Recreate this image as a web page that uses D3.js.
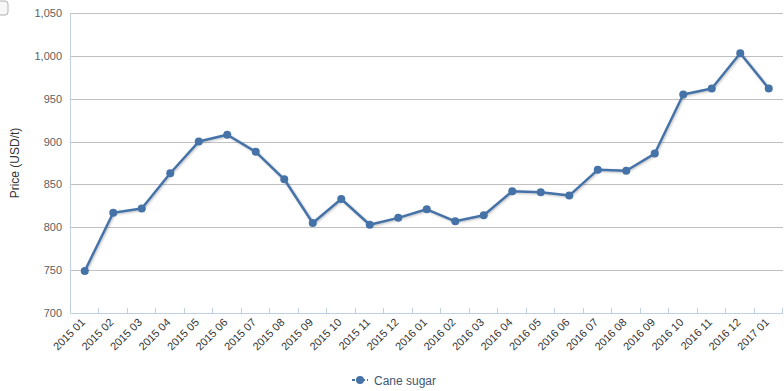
<!DOCTYPE html>
<html><head><meta charset="utf-8">
<script src="https://cdn.jsdelivr.net/npm/d3@7"></script>
<style>
html,body{margin:0;padding:0;background:#fff;}
svg{display:block;font-family:"Lucida Grande","Lucida Sans Unicode",Arial,"Liberation Sans",sans-serif;}
</style></head>
<body>
<svg id="c" width="784" height="391"></svg>
<script>
const categories = ["2015 01","2015 02","2015 03","2015 04","2015 05","2015 06","2015 07","2015 08","2015 09","2015 10","2015 11","2015 12","2016 01","2016 02","2016 03","2016 04","2016 05","2016 06","2016 07","2016 08","2016 09","2016 10","2016 11","2016 12","2017 01"];
const caneSugar = [749, 817, 822, 863, 900, 908, 888, 856, 805, 833, 803, 811, 821, 807, 814, 842, 841, 837, 867, 866, 886, 955, 962, 1003, 962];
const yTicks = [700, 750, 800, 850, 900, 950, 1000, 1050];
const seriesName = "Cane sugar";
const yTitle = "Price (USD/t)";

const svg = d3.select("#c");
const L = 70.5, R = 783, T = 13, B = 313;
const x = d3.scaleBand().domain(categories).range([L, R]);
const y = d3.scaleLinear().domain([700, 1050]).range([B, T]);
const fmt = d3.format(",");
const col = "#4572a7";

// partial button at top-left
svg.append("rect").attr("x", -10).attr("y", 1).attr("width", 18).attr("height", 14).attr("rx", 3)
  .attr("fill", "#f7f7f7").attr("stroke", "#b0b0b0");

// gridlines
svg.append("g").selectAll("line").data(yTicks).join("line")
  .attr("x1", L).attr("x2", R)
  .attr("y1", d => Math.round(y(d)) + 0.5).attr("y2", d => Math.round(y(d)) + 0.5)
  .attr("stroke", "#c0c0c0").attr("stroke-width", 1);

// y axis labels
svg.append("g").selectAll("text").data(yTicks).join("text")
  .attr("x", 62).attr("y", d => y(d) + 4)
  .attr("text-anchor", "end").attr("font-size", 11).attr("fill", "#606060")
  .text(d => fmt(d));

// y axis line
svg.append("line").attr("x1", L).attr("x2", L).attr("y1", T).attr("y2", B + 0.5)
  .attr("stroke", "#c0d0e0");

// y title
svg.append("text").attr("transform", `translate(19,${(T + B) / 2}) rotate(-90)`)
  .attr("text-anchor", "middle").attr("font-size", 12).attr("fill", "#333")
  .text(yTitle);

// x axis
svg.append("line").attr("x1", L).attr("x2", R).attr("y1", B + 0.5).attr("y2", B + 0.5)
  .attr("stroke", "#c0d0e0");
const bounds = categories.slice(1).map(c => x(c)).concat([R]);
svg.append("g").selectAll("line").data(bounds).join("line")
  .attr("x1", d => Math.round(d) - 0.5).attr("x2", d => Math.round(d) - 0.5)
  .attr("y1", B - 5).attr("y2", B)
  .attr("stroke", "#c0d0e0");
svg.append("g").selectAll("text").data(categories).join("text")
  .attr("transform", d => `translate(${x(d) + x.bandwidth() / 2 + 1},${B + 10}) rotate(-45)`)
  .attr("text-anchor", "end").attr("font-size", 11).attr("fill", "#333")
  .text(d => d);

// line with shadow
const line = d3.line().x((d, i) => x(categories[i]) + x.bandwidth() / 2).y(d => y(d));
const defs = svg.append("defs");
const f = defs.append("filter").attr("id", "sh").attr("x", "-10%").attr("y", "-10%").attr("width", "120%").attr("height", "130%");
f.append("feDropShadow").attr("dx", 1).attr("dy", 1).attr("stdDeviation", 1).attr("flood-color", "#000").attr("flood-opacity", 0.25);
svg.append("path").datum(caneSugar).attr("d", line).attr("fill", "none")
  .attr("stroke", col).attr("stroke-width", 2.5).attr("stroke-linejoin", "round").attr("filter", "url(#sh)");
svg.append("g").selectAll("circle").data(caneSugar).join("circle")
  .attr("cx", (d, i) => x(categories[i]) + x.bandwidth() / 2).attr("cy", d => y(d))
  .attr("r", 4).attr("fill", col);

// legend
const lg = svg.append("g").attr("transform", "translate(352,380)");
lg.append("line").attr("x1", 0).attr("x2", 16).attr("y1", 0).attr("y2", 0).attr("stroke", col).attr("stroke-width", 2).attr("stroke-dasharray", "3,2");
lg.append("circle").attr("cx", 8).attr("cy", 0).attr("r", 4).attr("fill", col);
lg.append("text").attr("x", 22).attr("y", 4.5).attr("font-size", 12).attr("fill", "#3e576f").text(seriesName);
</script>
</body></html>
